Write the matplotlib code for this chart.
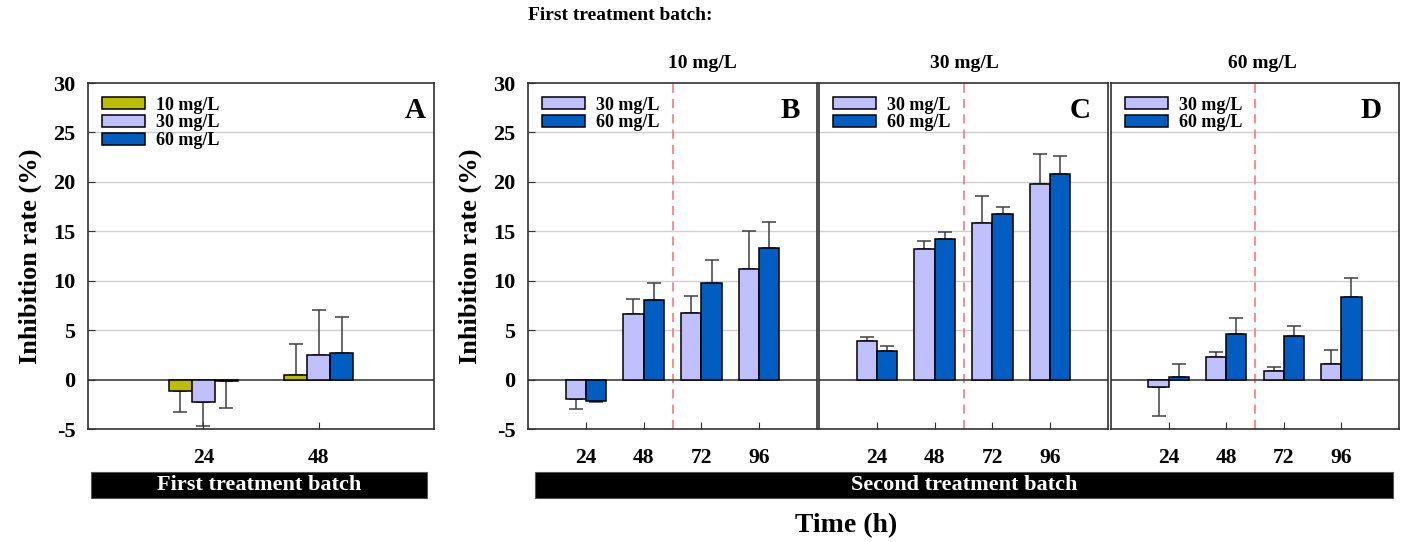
import numpy as np
import matplotlib
matplotlib.use('Agg')
import matplotlib.pyplot as plt
from matplotlib.patches import Rectangle

plt.rcParams['font.family'] = ['Liberation Serif', 'DejaVu Serif']
plt.rcParams['font.weight'] = 'bold'
plt.rcParams['axes.unicode_minus'] = False

# panel A: first treatment batch
times_a = ['24', '48']
a_10 = [-1.2, 0.45]
a_10_err = [2.1, 3.1]
a_30 = [-2.3, 2.5]
a_30_err = [2.4, 4.5]
a_60 = [-0.1, 2.7]
a_60_err = [2.8, 3.6]

# panels B-D: second treatment batch
times_b = ['24', '48', '72', '96']
b_30 = [-2.0, 6.6, 6.7, 11.2]
b_30_err = [1.0, 1.5, 1.8, 3.8]
b_60 = [-2.15, 8.05, 9.75, 13.35]
b_60_err = [0.15, 1.7, 2.3, 2.6]

c_30 = [3.9, 13.2, 15.8, 19.8]
c_30_err = [0.45, 0.8, 2.75, 3.0]
c_60 = [2.9, 14.2, 16.75, 20.75]
c_60_err = [0.5, 0.7, 0.75, 1.85]

d_30 = [-0.75, 2.25, 0.85, 1.6]
d_30_err = [2.9, 0.5, 0.45, 1.35]
d_60 = [0.25, 4.65, 4.4, 8.35]
d_60_err = [1.3, 1.55, 1.0, 1.9]

col_10 = '#bcbc00'
col_30 = '#c0c0ff'
col_60 = '#005ec2'

W, H = 1401, 542
fig = plt.figure(figsize=(W / 100, H / 100), dpi=100)


def px_axes(x0, x1, y0, y1):
    return fig.add_axes([x0 / W, 1 - y1 / H, (x1 - x0) / W, (y1 - y0) / H])


def one_sided(vals, errs):
    vals = np.array(vals)
    errs = np.array(errs)
    lo = np.where(vals < 0, errs, 0)
    hi = np.where(vals >= 0, errs, 0)
    return [lo, hi]


def draw_bars(ax, x, vals, errs, color, label, width):
    ax.bar(x, vals, width, color=color, edgecolor='black', linewidth=1.1,
           label=label, zorder=3)
    ax.errorbar(x, vals, yerr=one_sided(vals, errs), fmt='none',
                ecolor='#404040', elinewidth=1.1, capsize=5, capthick=1.1, zorder=2)


def style(ax, show_y):
    ax.set_ylim(-5, 30)
    ax.set_yticks(range(-5, 31, 5))
    for v in range(5, 30, 5):
        ax.axhline(v, color='#cfcfcf', lw=1, zorder=0)
    ax.axhline(0, color='#404040', lw=1.2, zorder=1)
    for s in ax.spines.values():
        s.set_color('#303030')
        s.set_linewidth(1.2)
    ax.tick_params(axis='x', direction='in', length=5, pad=14, labelsize=15.5, color='#303030')
    if show_y:
        ax.tick_params(axis='y', direction='in', length=5, pad=9, labelsize=16, color='#303030')
    else:
        ax.tick_params(axis='y', length=0, labelleft=False)
    for lab in ax.get_xticklabels() + ax.get_yticklabels():
        lab.set_fontweight('bold')


def add_legend(ax):
    ax.legend(loc='upper left', frameon=False, handlelength=2.4,
              handleheight=0.65, labelspacing=0.05, handletextpad=0.6,
              borderaxespad=0.45, borderpad=0.3,
              prop={'weight': 'bold', 'size': 13})


# panel A
ax_a = px_axes(88, 434, 83, 429)
xa = np.arange(1, len(times_a) + 1)
draw_bars(ax_a, xa - 0.2, a_10, a_10_err, col_10, '10 mg/L', 0.2)
draw_bars(ax_a, xa, a_30, a_30_err, col_30, '30 mg/L', 0.2)
draw_bars(ax_a, xa + 0.2, a_60, a_60_err, col_60, '60 mg/L', 0.2)
ax_a.set_xlim(0, 3)
ax_a.set_xticks(xa)
ax_a.set_xticklabels(times_a)
style(ax_a, True)
ax_a.set_ylabel('Inhibition rate (%)', fontsize=19, fontweight='bold', labelpad=8)
add_legend(ax_a)
ax_a.text(0.975, 0.92, 'A', transform=ax_a.transAxes, ha='right', va='center',
          fontsize=21, fontweight='bold')

# panels B-D
xb = np.arange(1, len(times_b) + 1)
panels = [
    ((528, 817), b_30, b_30_err, b_60, b_60_err, 'B', True),
    ((819, 1108), c_30, c_30_err, c_60, c_60_err, 'C', False),
    ((1111, 1399), d_30, d_30_err, d_60, d_60_err, 'D', False),
]
for (x0, x1), v30, e30, v60, e60, letter, show_y in panels:
    ax = px_axes(x0, x1, 83, 429)
    draw_bars(ax, xb - 0.175, v30, e30, col_30, '30 mg/L', 0.35)
    draw_bars(ax, xb + 0.175, v60, e60, col_60, '60 mg/L', 0.35)
    ax.axvline(2.5, color='#ff6b6b', lw=1.1, ls=(0, (6, 4)), zorder=1)
    ax.set_xlim(0, 5)
    ax.set_xticks(xb)
    ax.set_xticklabels(times_b)
    style(ax, show_y)
    add_legend(ax)
    ax.text(0.94, 0.92, letter, transform=ax.transAxes, ha='right', va='center',
            fontsize=21, fontweight='bold')
    if show_y:
        ax.set_ylabel('Inhibition rate (%)', fontsize=19, fontweight='bold', labelpad=8)

# black batch bars under the x axes
for x0, x1, txt in [(91, 427, 'First treatment batch'), (535, 1393, 'Second treatment batch')]:
    fig.add_artist(Rectangle((x0 / W, 1 - 498 / H), (x1 - x0) / W, 26.5 / H,
                             transform=fig.transFigure, facecolor='black',
                             edgecolor='#555555', lw=0.8))
    fig.text((x0 + x1) / 2 / W, 1 - 485 / H, txt, color='white', ha='center',
             va='center', fontsize=16, fontweight='bold')

# header texts
fig.text(528 / W, 1 - 16 / H, 'First treatment batch:', ha='left', va='center',
         fontsize=14, fontweight='bold')
for xc, txt in [(702, '10 mg/L'), (964, '30 mg/L'), (1262, '60 mg/L')]:
    fig.text(xc / W, 1 - 63 / H, txt, ha='center', va='center', fontsize=14,
             fontweight='bold')

fig.text(846 / W, 1 - 526 / H, 'Time (h)', ha='center', va='center', fontsize=20,
         fontweight='bold')

fig.savefig('out.png', dpi=100)
